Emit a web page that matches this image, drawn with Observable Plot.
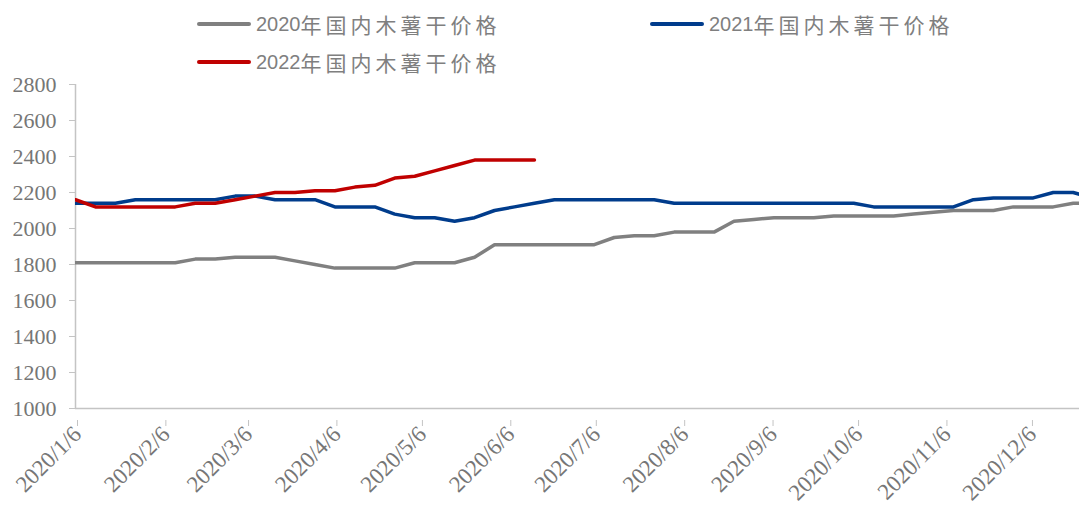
<!DOCTYPE html>
<html><head><meta charset="utf-8">
<script src="https://cdn.jsdelivr.net/npm/d3@7"></script>
<script src="https://cdn.jsdelivr.net/npm/@observablehq/plot@0.6"></script>
<style>
body{margin:0;background:#fff;}
#legend{position:relative;width:1079px;height:70px;font-family:"Liberation Sans","Noto Sans CJK SC",sans-serif;font-size:20px;color:#7f7f7f;}
.item{position:absolute;display:flex;align-items:center;height:24px;white-space:nowrap;}
.sw{width:54px;height:4px;margin-right:5px;border-radius:2px;}
.cjk{letter-spacing:4px;font-family:"Noto Sans CJK SC",sans-serif;font-size:21px;}
#chart svg{display:block;}
</style></head>
<body><div id="legend"></div><div id="chart"></div>
<script>
const weeks = ["2020-01-06","2020-01-13","2020-01-20","2020-01-27","2020-02-03","2020-02-10","2020-02-17","2020-02-24",
"2020-03-02","2020-03-09","2020-03-16","2020-03-23","2020-03-30","2020-04-06","2020-04-13","2020-04-20","2020-04-27",
"2020-05-04","2020-05-11","2020-05-18","2020-05-25","2020-06-01","2020-06-08","2020-06-15","2020-06-22","2020-06-29",
"2020-07-06","2020-07-13","2020-07-20","2020-07-27","2020-08-03","2020-08-10","2020-08-17","2020-08-24","2020-08-31",
"2020-09-07","2020-09-14","2020-09-21","2020-09-28","2020-10-05","2020-10-12","2020-10-19","2020-10-26",
"2020-11-02","2020-11-09","2020-11-16","2020-11-23","2020-11-30","2020-12-07","2020-12-14","2020-12-21","2020-12-28"];

const price2020 = [1810,1810,1810,1810,1810,1810,1830,1830,1840,1840,1840,1820,1800,1780,1780,1780,1780,1810,1810,1810,
1840,1910,1910,1910,1910,1910,1910,1950,1960,1960,1980,1980,1980,2040,2050,2060,2060,2060,2070,2070,2070,2070,
2080,2090,2100,2100,2100,2120,2120,2120,2140,2140];
const price2021 = [2140,2140,2140,2160,2160,2160,2160,2160,2180,2180,2160,2160,2160,2120,2120,2120,2080,2060,2060,2040,
2060,2100,2120,2140,2160,2160,2160,2160,2160,2160,2140,2140,2140,2140,2140,2140,2140,2140,2140,2140,
2120,2120,2120,2120,2120,2160,2170,2170,2170,2200,2200,2170];
const price2022 = [2160,2120,2120,2120,2120,2120,2140,2140,2160,2180,2200,2200,2210,2210,2230,2240,2280,2290,2320,2350,
2380,2380,2380,2380];

const seriesNames = ["2020年国内木薯干价格","2021年国内木薯干价格","2022年国内木薯干价格"];
const seriesColors = ["#808080","#003c8c","#c00000"];
const xTickDates = ["2020-01-06","2020-02-06","2020-03-06","2020-04-06","2020-05-06","2020-06-06",
"2020-07-06","2020-08-06","2020-09-06","2020-10-06","2020-11-06","2020-12-06"];
const yTicks = [1000,1200,1400,1600,1800,2000,2200,2400,2600,2800];

// legend
const legendPos = [[197,12],[650,12],[197,50]];
const leg = document.getElementById("legend");
seriesNames.forEach((name,i)=>{
  const it = document.createElement("div");
  it.className="item";
  it.style.left = legendPos[i][0]+"px"; it.style.top = legendPos[i][1]+"px";
  const sw = document.createElement("div"); sw.className="sw"; sw.style.background = seriesColors[i];
  const num = document.createElement("span"); num.textContent = name.slice(0,4);
  const cj = document.createElement("span"); cj.className="cjk"; cj.textContent = name.slice(4);
  it.append(sw,num,cj); leg.append(it);
});

const parse = d3.utcParse("%Y-%m-%d");
const rows = [];
[price2020,price2021,price2022].forEach((arr,i)=>{
  arr.forEach((v,j)=>rows.push({date:parse(weeks[j]), value:v, series:seriesNames[i]}));
});
const x0 = parse("2020-01-06");
const fmt = d3.utcFormat("%Y/%-m/%-d");

const chart = Plot.plot({
  width:1079, height:436,
  marginTop:14, marginLeft:75, marginRight:0, marginBottom:98,
  style:{background:"#fff", fontFamily:"'Liberation Serif', serif", fontSize:"22px", color:"#767676"},
  x:{type:"utc", domain:[x0, new Date(Date.UTC(2020,11,23,5))]},
  y:{domain:[1000,2800]},
  marks:[
    Plot.ruleX([x0],{stroke:"#c4c4c4", strokeWidth:1.5}),
    Plot.ruleY([1000],{stroke:"#c4c4c4", strokeWidth:1.5}),
    Plot.axisY({ticks:yTicks, tickSize:6, tickPadding:13, stroke:"#c4c4c4", fontSize:22, tickFormat:d=>String(d), label:null}),
    Plot.axisX({ticks:xTickDates.map(parse), tickSize:6, tickPadding:4, tickRotate:-45, stroke:"#c4c4c4", fontSize:23, dx:2, dy:12, tickFormat:fmt, label:null}),
    ...seriesNames.map((s,i)=>Plot.line(rows.filter(r=>r.series===s),{x:"date", y:"value", stroke:seriesColors[i], strokeWidth:3.5, clip:true}))
  ]
});
document.getElementById("chart").append(chart);
</script>
</body></html>
